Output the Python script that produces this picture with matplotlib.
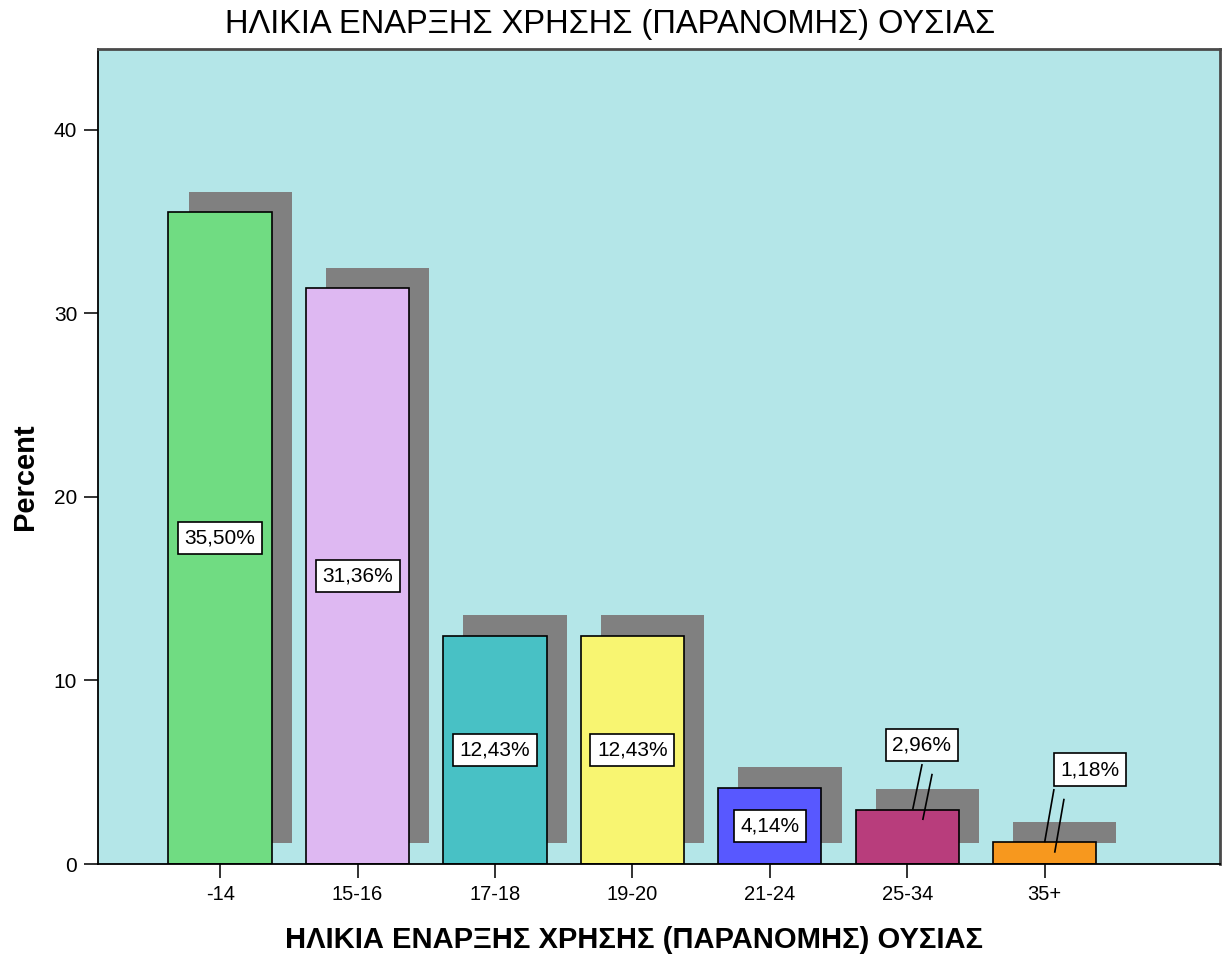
import matplotlib
matplotlib.use("Agg")
import matplotlib.pyplot as plt

# ---- data ----
categories = ["-14", "15-16", "17-18", "19-20", "21-24", "25-34", "35+"]
percents = [35.50, 31.36, 12.43, 12.43, 4.14, 2.96, 1.18]
bar_colors = ["#70DC82", "#DEB8F2", "#48C1C5", "#F8F571", "#5858FF", "#B83D7C", "#F7981E"]
y_ticks = [0, 10, 20, 30, 40]
title_text = "ΗΛΙΚΙΑ ΕΝΑΡΞΗΣ ΧΡΗΣΗΣ (ΠΑΡΑΝΟΜΗΣ) ΟΥΣΙΑΣ"
x_label = "ΗΛΙΚΙΑ ΕΝΑΡΞΗΣ ΧΡΗΣΗΣ (ΠΑΡΑΝΟΜΗΣ) ΟΥΣΙΑΣ"
y_label = "Percent"

plt.rcParams["font.family"] = ["Liberation Sans", "DejaVu Sans"]

fig = plt.figure(figsize=(12.29, 9.55), dpi=100)
ax = fig.add_axes([98 / 1229, 1 - 864 / 955, (1220 - 98) / 1229, (864 - 49) / 955])
ax.set_facecolor("#B4E6E8")

x = list(range(len(categories)))
width = 0.752
dx, dy = 0.146, 1.12

# drop shadows behind the bars
ax.bar([xi + dx for xi in x], percents, width=width, bottom=dy,
       color="#808080", edgecolor="none", zorder=1)
# bars
ax.bar(x, percents, width=width, color=bar_colors, edgecolor="black",
       linewidth=1.2, zorder=2)

box = dict(boxstyle="square,pad=0.32", facecolor="white", edgecolor="black", linewidth=1.2)

# callouts for short bars: bar index -> (box x offset, box y, leader x offset)
callouts = {5: (0.106, 6.50, 0.107), 6: (0.33, 5.14, 0.067)}
for i, v in enumerate(percents):
    txt = f"{v:.2f}%".replace(".", ",")
    if i in callouts:
        ox, ly, lx = callouts[i]
        ax.text(i + ox, ly, txt, ha="center", va="center", fontsize=15,
                bbox=box, zorder=5)
        x0 = i + lx
        ax.plot([x0, x0 - 0.066], [ly - 1.1, v + 0.05],
                color="black", lw=1.2, zorder=4)
        ax.plot([x0 + 0.073, x0 + 0.007], [ly - 1.63, v - 0.52],
                color="black", lw=1.2, zorder=4)
    else:
        ax.text(i, v / 2, txt, ha="center", va="center", fontsize=15,
                bbox=box, zorder=5)

ax.set_xlim(-0.889, 7.276)
ax.set_ylim(0, 44.4)
ax.set_xticks(x)
ax.set_xticklabels(categories, fontsize=14.5)
ax.set_yticks(y_ticks)
ax.set_yticklabels([str(t) for t in y_ticks], fontsize=15)
ax.tick_params(axis="both", length=10, width=1.3, color="#222222", pad=5)

for s in ("left", "bottom"):
    ax.spines[s].set_color("black")
    ax.spines[s].set_linewidth(1.3)
for s in ("top", "right"):
    ax.spines[s].set_color("#4a4a4a")
    ax.spines[s].set_linewidth(2.0)

ax.set_xlabel(x_label, fontsize=21, fontweight="bold", va="center")
ax.xaxis.set_label_coords((634 - 98) / 1122, -(940 - 864) / 815)
ax.set_ylabel(y_label, fontsize=21, fontweight="bold", va="center")
ax.yaxis.set_label_coords(-(98 - 25) / 1122, (864 - 477) / 815)

fig.text(610 / 1229, 1 - 25 / 955, title_text, ha="center", va="center",
         fontsize=23.5)

fig.savefig("out.png", dpi=100)
